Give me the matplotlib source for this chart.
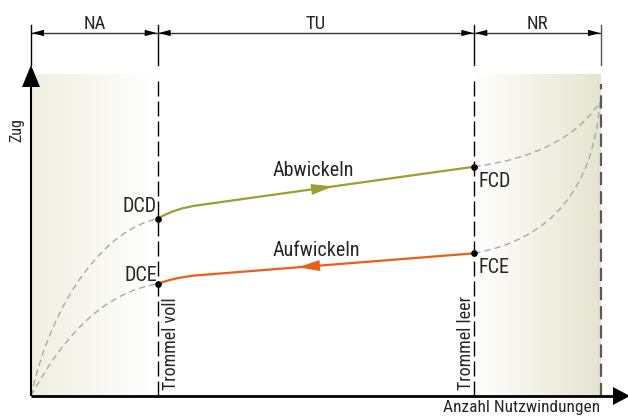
import numpy as np
import matplotlib.pyplot as plt
from matplotlib.path import Path
from matplotlib.patches import PathPatch, Polygon
from matplotlib.colors import LinearSegmentedColormap

plt.rcParams['font.family'] = ['Roboto Condensed', 'DejaVu Sans']
plt.rcParams['text.color'] = '#262626'
plt.rcParams['lines.scale_dashes'] = False

# schematic units: x = useful turns, y = tension (origin at the axis corner)
zone_names = ['NA', 'TU', 'NR']
zone_edges = [0, 126.7, 443.3, 570]
x_voll, x_leer, x_end = 126.7, 443.3, 570
shade_top = 322

# tension points at drum full / drum empty
point_names = ['DCD', 'DCE', 'FCD', 'FCE']
point_x = [126.7, 126.7, 443.3, 443.3]
point_y = [177.3, 112.0, 229.3, 142.7]

# unwinding (Abwickeln): start, bend control, bend end, end
abw_x = [126.7, 144, 169, 443.3]
abw_y = [177.3, 188, 191, 229.3]
# winding (Aufwickeln)
auf_x = [126.7, 141, 164, 443.3]
auf_y = [112.0, 118, 120.5, 142.7]

# dashed extrapolation curves, each start / control(s) / end
ext_curves = [
    ([0, 22, 76, 126.7], [0, 100, 167, 177.3]),
    ([0, 54, 126.7], [0, 101, 112.0]),
    ([443.3, 534, 569], [229.3, 241, 294]),
    ([443.3, 559, 569], [142.7, 164, 294]),
]

green = '#9e9e2e'
orange = '#eb5e16'

fig = plt.figure(figsize=(6.28, 4.16), dpi=100)
ax = fig.add_axes([0, 0, 1, 1])


def bezier(xs, ys, **kw):
    codes = {3: [Path.MOVETO, Path.CURVE3, Path.CURVE3],
             4: [Path.MOVETO, Path.CURVE4, Path.CURVE4, Path.CURVE4]}[len(xs)]
    p = Path(list(zip(xs, ys)), codes)
    ax.add_patch(PathPatch(p, fill=False, **kw))


def head(tip, direction, length, half, color):
    d = np.array(direction, float)
    d = d / np.hypot(*d)
    n = np.array([-d[1], d[0]])
    tip = np.array(tip, float)
    base = tip - d * length
    ax.add_patch(Polygon([tip, base + n * half, base - n * half],
                         closed=True, color=color, lw=0, zorder=6, clip_on=False))


# shaded end zones
beige = LinearSegmentedColormap.from_list('b', ['white', '#e6e4cf'])
grad = np.linspace(0, 1, 256).reshape(1, -1)
ax.imshow(grad[:, ::-1] * 0.6, cmap=beige, vmin=0, vmax=1, aspect='auto',
          extent=(0, x_voll, 0, shade_top), zorder=0)
ax.imshow(grad, cmap=beige, vmin=0, vmax=1, aspect='auto',
          extent=(x_leer, x_end, 0, shade_top), zorder=0)

# gray dashed extrapolations
for cx, cy in ext_curves:
    bezier(cx, cy, ec='#a8a8a8', lw=1.0, ls=(0, (4.5, 3)), zorder=2)

# working curves
bezier(abw_x[:3], abw_y[:3], ec=green, lw=1.6, zorder=3)
ax.plot(abw_x[2:], abw_y[2:], color=green, lw=1.6, zorder=3, solid_capstyle='butt')
bezier(auf_x[:3], auf_y[:3], ec=orange, lw=1.6, zorder=3)
ax.plot(auf_x[2:], auf_y[2:], color=orange, lw=1.6, zorder=3, solid_capstyle='butt')

# direction arrows on the curves
sg = (abw_y[3] - abw_y[2]) / (abw_x[3] - abw_x[2])
gx = 302
head((gx, abw_y[2] + sg * (gx - abw_x[2])), (1, sg), 22, 5.5, green)
so = (auf_y[3] - auf_y[2]) / (auf_x[3] - auf_x[2])
ox = 267
head((ox, auf_y[2] + so * (ox - auf_x[2])), (-1, -so), 22, 5.5, orange)

ax.plot(point_x, point_y, 'o', color='black', ms=3.8, zorder=5)

# vertical drum lines
for xv in [x_voll, x_leer]:
    ax.plot([xv, xv], [0, shade_top - 4], color='black', lw=1.0, ls=(0, (10.8, 3.6)), zorder=4)
ax.plot([x_end, x_end], [0, shade_top - 10], color='#5a5a5a', lw=1.6,
        ls=(0, (9.5, 4.3)), zorder=4)

# dimension line on top
dim_y = 363
for xe in zone_edges:
    ax.plot([xe, xe], [331, 371], color='black' if xe < x_end else '#555555',
            lw=1.0, zorder=4)
for a, b, name in zip(zone_edges[:-1], zone_edges[1:], zone_names):
    ax.plot([a + 1, b - 1], [dim_y, dim_y], color='#333333', lw=1.0)
    head((a + 1, dim_y), (-1, 0), 12, 3.2, 'black')
    head((b - 1, dim_y), (1, 0), 12, 3.2, 'black')
    ax.text((a + b) / 2, 367, name, ha='center', va='baseline', fontsize=13.5)

# axes with arrows
ax.plot([0, 0], [0, 320], color='black', lw=1.5, zorder=6, solid_capstyle='butt')
head((0, 331), (0, 1), 22, 9, 'black')
ax.plot([0, 585], [0, 0], color='black', lw=2.0, zorder=6, solid_capstyle='butt')
head((599, 0), (1, 0), 17, 9, 'black')

# labels
ax.text(-14, 266, 'Zug', rotation=90, ha='center', va='center', fontsize=11.5)
ax.text(569, -16, 'Anzahl Nutzwindungen', ha='right', va='baseline', fontsize=12.5)
ax.text(145, 6, 'Trommel voll', rotation=90, rotation_mode='anchor',
        ha='left', va='baseline', fontsize=13)
ax.text(440, 6, 'Trommel leer', rotation=90, rotation_mode='anchor',
        ha='left', va='baseline', fontsize=13)
ax.text(126, 184, 'DCD', ha='right', va='baseline', fontsize=14.5)
ax.text(126, 115, 'DCE', ha='right', va='baseline', fontsize=14.5)
ax.text(447, 209, 'FCD', ha='left', va='baseline', fontsize=14.5)
ax.text(447, 123, 'FCE', ha='left', va='baseline', fontsize=14.5)
ax.text(282, 220, 'Abwickeln', ha='center', va='baseline', fontsize=14.5)
ax.text(285, 140, 'Aufwickeln', ha='center', va='baseline', fontsize=14.5)

ax.set_xlim(-31, 597)
ax.set_ylim(-20, 396)
ax.axis('off')

fig.savefig('out.png', dpi=100)
